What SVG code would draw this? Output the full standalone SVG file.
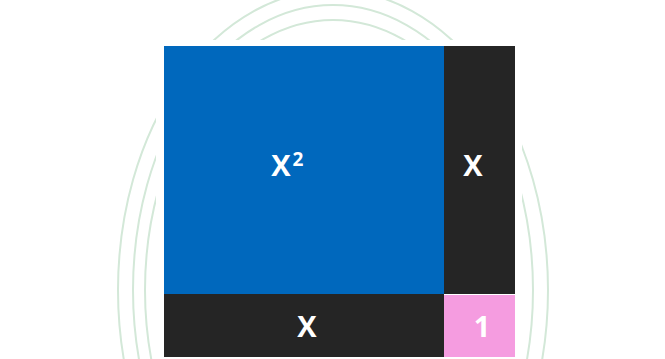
<svg xmlns="http://www.w3.org/2000/svg" width="665" height="359" viewBox="0 0 665 359">
<style>
.lbl{font-family:"Open Sans","Liberation Sans",sans-serif;font-weight:bold;fill:#ffffff;text-anchor:middle}
.orn{fill:none;stroke:#d3e8d8;stroke-width:2}
</style>
<rect width="665" height="359" fill="#ffffff"/>
<g id="watermark">
<ellipse class="orn" cx="333" cy="290" rx="200" ry="285"/>
<ellipse class="orn" cx="333" cy="290" rx="188" ry="270"/>
<ellipse class="orn" cx="333" cy="290" rx="215" ry="300"/>
</g>
<rect x="156" y="40" width="366" height="319" fill="#ffffff"/>
<g id="x2">
<rect x="164" y="46" width="280" height="248" fill="#0068bd"/>
<text class="lbl" x="281" y="176" font-size="29">X</text>
<text class="lbl" x="298" y="166" font-size="19">2</text>
</g>
<g id="xright">
<rect x="444" y="46" width="71" height="248" fill="#252525"/>
<text class="lbl" x="473" y="176" font-size="29">X</text>
</g>
<g id="xbottom">
<rect x="164" y="294" width="280" height="63" fill="#252525"/>
<text class="lbl" x="307" y="337" font-size="29">X</text>
</g>
<g id="one">
<rect x="444" y="295" width="71" height="62" fill="#f59ce0"/>
<text class="lbl" x="482" y="337" font-size="29">1</text>
</g>
</svg>
